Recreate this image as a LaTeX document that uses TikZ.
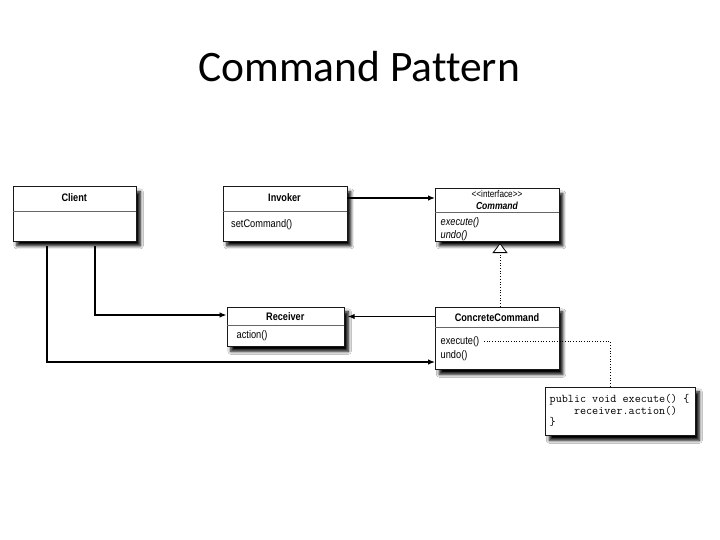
\documentclass[tikz,border=0pt]{standalone}
\usepackage{fontspec}
\setmainfont{Liberation Sans}
\newfontfamily\carlito[Ligatures=NoCommon]{Carlito}
\usetikzlibrary{arrows.meta,shadows.blur,calc}
\newcommand\condtxt[1]{\scalebox{0.84}[1]{#1}}
\tikzset{
  umlbox/.style={draw=black!90, fill=white, line width=0.7pt, inner sep=0pt, anchor=north west,
    blur shadow={shadow xshift=4pt, shadow yshift=-5pt, shadow blur steps=6, shadow blur radius=3pt, shadow opacity=100}},
  divline/.style={draw=black!60, line width=0.5pt},
  hdr/.style={font=\fontsize{10.9}{12}\selectfont\bfseries, inner sep=0pt},
  member/.style={font=\fontsize{11}{12}\selectfont, inner sep=0pt, anchor=west},
  conn/.style={line width=1.2pt, -{Latex[length=7pt,width=5.5pt]}},
  dotline/.style={line width=0.7pt, dotted}
}
\begin{document}
\begin{tikzpicture}[x=1pt,y=-1pt]
\useasboundingbox[fill=white] (0,0) rectangle (720,540);

\node[font=\fontsize{43.5}{50}\selectfont\carlito, anchor=base, inner sep=0pt] (title) at (359,81.7) {Command Pattern};

% Client
\node[umlbox, minimum width=123.5pt, minimum height=54pt] (client) at (12.5,186.5) {};
\draw[divline] (12.5,211.5) -- (136,211.5);
\node[hdr] (clientt) at (74.25,198) {\condtxt{Client}};

% Invoker
\node[umlbox, minimum width=124pt, minimum height=54pt] (inv) at (222.5,186.5) {};
\draw[divline] (222.5,211.5) -- (346.5,211.5);
\node[hdr] (invt) at (284.5,198) {\condtxt{Invoker}};
\node[member] (invm) at (231,225) {\condtxt{setCommand()}};

% Command interface
\node[umlbox, minimum width=123.5pt, minimum height=52pt] (cmd) at (435,188.5) {};
\draw[divline] (435,212.5) -- (558.5,212.5);
\node[font=\fontsize{9.8}{10}\selectfont, inner sep=0pt] (cmds) at (497,194) {\condtxt{{<}{<}interface{>}{>}}};
\node[hdr, font=\fontsize{10.2}{11}\selectfont\bfseries\itshape] (cmdt) at (497,205.5) {\condtxt{Command}};
\node[member, font=\fontsize{11}{12}\selectfont\itshape] (cmdm1) at (440.5,222.5) {\condtxt{execute()}};
\node[member, font=\fontsize{11}{12}\selectfont\itshape] (cmdm2) at (440.5,235.5) {\condtxt{undo()}};

% Receiver
\node[umlbox, minimum width=117.5pt, minimum height=39.5pt] (rcv) at (226.5,306.5) {};
\draw[divline] (226.5,325) -- (344,325);
\node[hdr] (rcvt) at (285.25,316.5) {\condtxt{Receiver}};
\node[member] (rcvm) at (236.5,335.5) {\condtxt{action()}};

% ConcreteCommand
\node[umlbox, minimum width=123.5pt, minimum height=62.5pt] (cc) at (435,306.5) {};
\draw[divline] (435,327) -- (558.5,327);
\node[hdr] (cct) at (497,317.5) {\condtxt{ConcreteCommand}};
\node[member] (ccm1) at (440.5,341.5) {\condtxt{execute()}};
\node[member] (ccm2) at (440.5,355.5) {\condtxt{undo()}};

% Code note
\node[umlbox, minimum width=150pt, minimum height=48.5pt] (code) at (545,386.5) {};
\node[font=\fontsize{11.8}{11.5}\selectfont\ttfamily, anchor=west, align=left, inner sep=0pt] (codet) at (549.5,410.5)
  {public void execute() \{\\\hphantom{0000}receiver.action()\\\}};

% connectors
\draw[conn] (invt -| inv.east) -- (invt -| cmd.west);
\draw[conn, shorten >=3pt] (rcvt -| cc.west) -- (rcvt -| rcv.east);
\coordinate (c1) at (95,246);
\coordinate (c2) at (47,246);
\coordinate (ccin) at (435,362);
\coordinate (rcvin) at (226.5,315);
\draw[conn] (c1) |- (rcvin);
\draw[conn] (c2) |- (ccin);

% realization
\coordinate (realtop) at (500,243);
\coordinate (realbot) at (500,306.5);
\draw[dotline, -{Triangle[open, fill=white, length=10pt, width=15pt, line width=0.8pt]}] (realbot) -- (realtop);

% note link
\coordinate (n1) at (484,341.5);
\coordinate (n2) at (610,341.5);
\coordinate (n3) at (610,386.5);
\draw[dotline] (n1) -- (n2) -- (n3);
\end{tikzpicture}
\end{document}
